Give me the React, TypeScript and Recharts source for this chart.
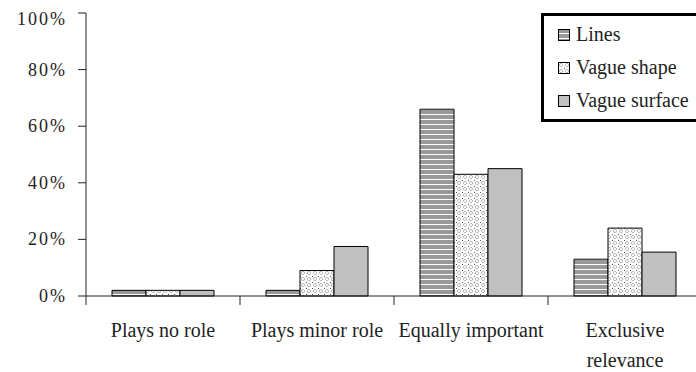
import { BarChart, Bar, XAxis, YAxis } from 'recharts'

const categories = ['Plays no role', 'Plays minor role', 'Equally important', 'Exclusive\nrelevance']
const lines = [2, 2, 66, 13]
const vagueShape = [2, 9, 43, 24]
const vagueSurface = [2, 17.5, 45, 15.5]
const yTicks = [0, 20, 40, 60, 80, 100]

const seriesNames = ['Lines', 'Vague shape', 'Vague surface']
const seriesFills = ['url(#pat-lines)', 'url(#pat-dots)', '#c0c0c0']

const data = categories.map((name, i) => ({
  name,
  lines: lines[i],
  shape: vagueShape[i],
  surface: vagueSurface[i],
}))

const FONT = 'Liberation Serif, serif'

function XTick(props: any) {
  const { x, y, payload, width, visibleTicksCount } = props
  const half = payload.offset || width / (visibleTicksCount || 4) / 2
  const rows = String(payload.value).split('\n')
  return (
    <g>
      <line x1={x - half} x2={x - half} y1={y} y2={y + 9} stroke="#222" strokeWidth={1} />
      <text x={x} y={y + 41} textAnchor="middle" fontFamily={FONT} fontSize={20} fill="#222">
        {rows.map((r, i) => (
          <tspan key={i} x={x} dy={i ? 30 : 0}>
            {r}
          </tspan>
        ))}
      </text>
    </g>
  )
}

function YTick(props: any) {
  const { x, y, payload } = props
  const shift = payload.value === 100 ? 6 : 0
  return (
    <text
      x={x + 2}
      y={y + shift}
      dy={6}
      textAnchor="end"
      fontFamily={FONT}
      fontSize={18}
      letterSpacing={2}
      fill="#222"
    >
      {`${payload.value}%`}
    </text>
  )
}

function LegendBox() {
  return (
    <div
      style={{
        position: 'absolute',
        left: 541,
        top: 13,
        border: '3px solid #000',
        background: '#fff',
        width: 170,
        height: 109,
        boxSizing: 'border-box',
        paddingTop: 2,
        paddingLeft: 14,
        fontFamily: FONT,
        fontSize: 20,
        color: '#222',
      }}
    >
      {seriesNames.map((name, i) => (
        <div key={name} style={{ display: 'flex', alignItems: 'center', height: 33, whiteSpace: 'nowrap' }}>
          <svg width={12} height={12} style={{ marginRight: 6 }}>
            <rect x={0.5} y={0.5} width={11} height={11} fill={seriesFills[i]} stroke="#000" />
          </svg>
          <span>{name}</span>
        </div>
      ))}
    </div>
  )
}

export default function App() {
  return (
    <div style={{ position: 'absolute', left: 0, top: 0, width: 696, height: 372, overflow: 'hidden', background: '#fff' }}>
      <BarChart
        width={720}
        height={372}
        data={data}
        margin={{ top: 13, right: 18, left: 0, bottom: 0 }}
        barSize={34}
        barGap={0}
      >
        <defs>
          <pattern id="pat-lines" width={4} height={5} patternUnits="userSpaceOnUse">
            <rect width={4} height={5} fill="#999" />
            <rect y={4} width={4} height={1} fill="#fff" />
          </pattern>
          <pattern id="pat-dots" width={6} height={6} patternUnits="userSpaceOnUse">
            <rect width={6} height={6} fill="#fff" />
            <circle cx={3} cy={3} r={1.6} fill="none" stroke="#bbb" strokeWidth={1} />
            <rect x={0} y={0} width={1} height={1} fill="#555" />
          </pattern>
        </defs>
        <XAxis
          dataKey="name"
          height={76}
          tickSize={0}
          tickMargin={0}
          tickLine={false}
          interval={0}
          axisLine={{ stroke: '#222' }}
          tick={<XTick />}
        />
        <YAxis
          width={86}
          domain={[0, 100]}
          ticks={yTicks}
          tickSize={8}
          tickMargin={13}
          axisLine={{ stroke: '#222' }}
          tickLine={{ stroke: '#222' }}
          tick={<YTick />}
        />
        <Bar dataKey="lines" name={seriesNames[0]} fill={seriesFills[0]} stroke="#000" isAnimationActive={false} />
        <Bar dataKey="shape" name={seriesNames[1]} fill={seriesFills[1]} stroke="#000" isAnimationActive={false} />
        <Bar dataKey="surface" name={seriesNames[2]} fill={seriesFills[2]} stroke="#000" isAnimationActive={false} />
      </BarChart>
      <LegendBox />
    </div>
  )
}
